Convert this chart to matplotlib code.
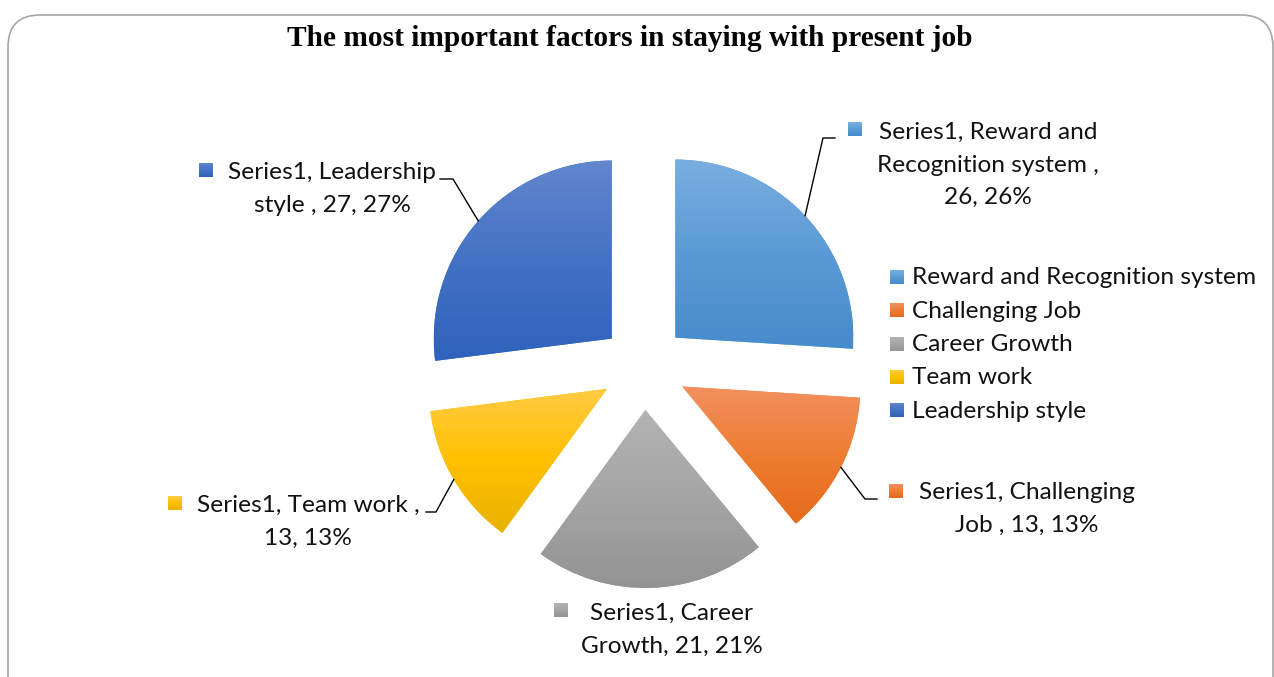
import matplotlib
matplotlib.use("Agg")
import matplotlib.pyplot as plt
import numpy as np
from matplotlib.colors import LinearSegmentedColormap
from matplotlib.patches import FancyBboxPatch, Rectangle

W, H = 1274, 677

categories = ["Reward and Recognition system", "Challenging Job", "Career Growth",
              "Team work", "Leadership style"]
values = [26, 13, 21, 13, 27]
percents = [26, 13, 21, 13, 27]
label_text = [
    "Series1, Reward and\nRecognition system ,\n{v}, {p}%",
    "Series1, Challenging\nJob , {v}, {p}%",
    "Series1, Career\nGrowth, {v}, {p}%",
    "Series1, Team work ,\n{v}, {p}%",
    "Series1, Leadership\nstyle , {v}, {p}%",
]

# tint / base / shade for the vertical gradient of each slice
grad_colors = [
    ("#7aaee0", "#5b9bd5", "#468bcb"),
    ("#f39060", "#ed7d31", "#e66a1c"),
    ("#b3b3b3", "#a5a5a5", "#939393"),
    ("#ffcb45", "#ffc000", "#e8b200"),
    ("#6187ce", "#4472c4", "#2f62bd"),
]

FONT = "Lato"
FS = 17.6


def py(y):
    # pixel rows counted from the top -> data y (up)
    return H - y


def gradient_fill(ax, patch, colors, extent=None):
    cmap = LinearSegmentedColormap.from_list("g", list(colors))
    if extent is None:
        bb = patch.get_path().get_extents(patch.get_patch_transform())
        extent = [bb.x0, bb.x1, bb.y0, bb.y1]
    grad = np.linspace(1, 0, 256).reshape(-1, 1)
    im = ax.imshow(grad, cmap=cmap, vmin=0, vmax=1, extent=extent,
                   origin="lower", aspect="auto", interpolation="bilinear",
                   zorder=patch.get_zorder() + 0.1)
    im.set_clip_path(patch)
    return im


def square(ax, x, y, colors, size=14):
    sq = Rectangle((x - size / 2, y - size / 2), size, size, linewidth=0,
                   facecolor=colors[1], zorder=5)
    ax.add_patch(sq)
    gradient_fill(ax, sq, colors,
                  extent=[x - size / 2, x + size / 2, y - size / 2, y + size / 2])


fig = plt.figure(figsize=(W / 100, H / 100), dpi=100)
ax = fig.add_axes([0, 0, 1, 1])

cx, cy, R, EXP = 644, py(367), 178, 43
wedges, _ = ax.pie(values, explode=[EXP] * len(values), startangle=90,
                   counterclock=False, radius=R, center=(cx, cy), frame=True,
                   colors=[c[1] for c in grad_colors],
                   wedgeprops=dict(linewidth=0))
for w, c in zip(wedges, grad_colors):
    gradient_fill(ax, w, c)

# data labels: (block centre x, block centre y, marker x, marker y, elbow, label end)
label_pos = [
    (988, 165, 855, 129, (823, 138), (835, 138)),
    (1027, 509, 896, 491, (865, 499), (877, 499)),
    (672, 630, 561, 610, None, None),
    (308, 522, 175, 503, (436, 512), (426, 512)),
    (332, 189, 206, 170, (453, 179), (440, 179)),
]
for w, c, txt, v, p, pos in zip(wedges, grad_colors, label_text, values,
                                percents, label_pos):
    bx, by, mx, my, elbow, end = pos
    ax.text(bx, py(by), txt.format(v=v, p=p), ha="center", va="center",
            multialignment="center", fontsize=FS, family=FONT,
            linespacing=1.68, color="#111111", zorder=5)
    square(ax, mx, py(my), c)
    if elbow is not None:
        tm = np.deg2rad((w.theta1 + w.theta2) / 2)
        ex = w.center[0] + w.r * np.cos(tm)
        ey = w.center[1] + w.r * np.sin(tm)
        ax.plot([ex, elbow[0], end[0]], [ey, py(elbow[1]), py(end[1])],
                color="black", lw=1, zorder=4)

# legend
for i, (name, c) in enumerate(zip(categories, grad_colors)):
    ly = 277 + 33.3 * i
    square(ax, 896.5, py(ly), c)
    ax.text(912, py(ly + 1), name, ha="left", va="center", fontsize=FS,
            family=FONT, color="#111111", zorder=5)

ax.text(630, py(38), "The most important factors in staying with present job",
        ha="center", va="center", fontsize=21.2, fontweight="bold",
        family="Liberation Serif", color="black")

frame = FancyBboxPatch((8, py(740)), 1265, 725,
                       boxstyle="round,pad=0,rounding_size=32",
                       facecolor="none", edgecolor="#a6a6a6", linewidth=1.2,
                       zorder=1)
ax.add_patch(frame)

ax.set_xlim(0, W)
ax.set_ylim(0, H)
ax.axis("off")

fig.savefig("out.png", dpi=100)
